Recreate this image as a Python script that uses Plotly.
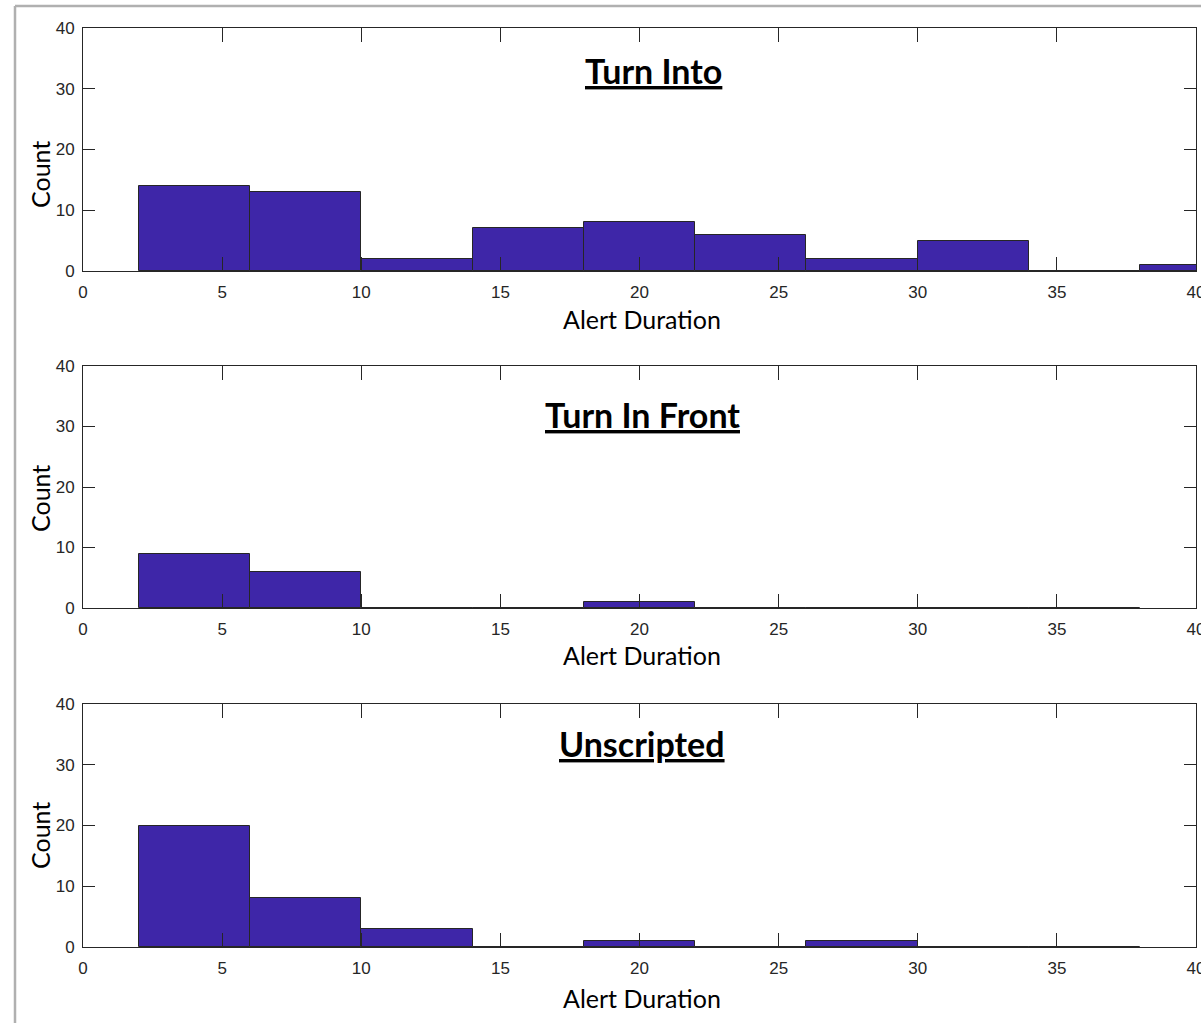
import plotly.graph_objects as go

# Histogram data: bin edges (alert duration, s) and counts per bin
edges_turn_into = [2, 6, 10, 14, 18, 22, 26, 30, 34, 38, 42]
counts_turn_into = [14, 13, 2, 7, 8, 6, 2, 5, 0, 1]

edges_turn_front = [2, 6, 10, 14, 18, 22, 26, 30, 34, 38]
counts_turn_front = [9, 6, 0, 0, 1, 0, 0, 0, 0]

edges_unscripted = [2, 6, 10, 14, 18, 22, 26, 30, 34, 38]
counts_unscripted = [20, 8, 3, 0, 1, 0, 1, 0, 0]

panel_titles = ["Turn Into", "Turn In Front", "Unscripted"]
x_ticks = [0, 5, 10, 15, 20, 25, 30, 35, 40]
y_ticks = [0, 10, 20, 30, 40]

W, H = 1201, 1023
BAR = "#3E26A8"
INK = "#262626"
TEXT_FONT = "Lato"
TICK_FONT = "Liberation Sans Narrow, Liberation Sans, sans-serif"

# pixel boxes of the three panels (left, right, top, bottom)
px_left, px_right = 83, 1196
panels_px = [(28, 271), (366, 608), (704, 947)]

panels = [
    (edges_turn_into, counts_turn_into),
    (edges_turn_front, counts_turn_front),
    (edges_unscripted, counts_unscripted),
]

fig = go.Figure()
layout = dict(
    width=W, height=H,
    margin=dict(l=0, r=0, t=0, b=0, autoexpand=False),
    paper_bgcolor="white", plot_bgcolor="white",
    showlegend=False, bargap=0,
    annotations=[], shapes=[],
)

title_pos = [(653, 71), (642, 414), (642, 743)]
count_pos = [175, 499, 836]
xlabel_pos = [319, 655, 998]

for i, (edges, counts) in enumerate(panels):
    n = i + 1
    xa = "x" if n == 1 else f"x{n}"
    ya = "y" if n == 1 else f"y{n}"
    centers = [(a + b) / 2 for a, b in zip(edges[:-1], edges[1:])]
    widths = [b - a for a, b in zip(edges[:-1], edges[1:])]
    fig.add_trace(go.Bar(
        x=centers, y=counts, width=widths,
        marker=dict(color=BAR, line=dict(color=INK, width=1)),
        xaxis=xa, yaxis=ya, hoverinfo="x+y",
    ))
    top, bot = panels_px[i]
    axis_common = dict(
        showgrid=False, zeroline=False, automargin=False,
        showline=True, linecolor=INK, linewidth=1, mirror="allticks",
        ticks="inside", tickcolor=INK, tickwidth=1,
        ticklabeloverflow="allow",
        tickfont=dict(family=TICK_FONT, size=17, color=INK),
    )
    layout["xaxis" if n == 1 else f"xaxis{n}"] = dict(
        axis_common,
        domain=[px_left / W, px_right / W],
        range=[0, 40], tickvals=x_ticks, ticklen=14,
        ticklabelstandoff=6,
        anchor=ya,
    )
    layout["yaxis" if n == 1 else f"yaxis{n}"] = dict(
        axis_common,
        domain=[1 - bot / H, 1 - top / H],
        range=[0, 40], tickvals=y_ticks, ticklen=12,
        ticklabelstandoff=4,
        anchor=xa,
    )
    tx, ty = title_pos[i]
    layout["annotations"].append(dict(
        text=f"<b>{panel_titles[i]}</b>", xref="paper", yref="paper",
        x=tx / W, y=1 - ty / H, xanchor="center", yanchor="middle",
        showarrow=False,
        font=dict(family=TEXT_FONT, size=34, color="black", lineposition="under"),
    ))
    layout["annotations"].append(dict(
        text="Count", xref="paper", yref="paper",
        x=40 / W, y=1 - count_pos[i] / H, xanchor="center", yanchor="middle",
        textangle=-90, showarrow=False,
        font=dict(family=TEXT_FONT, size=25, color="black"),
    ))
    layout["annotations"].append(dict(
        text="Alert Duration", xref="paper", yref="paper",
        x=642 / W, y=1 - xlabel_pos[i] / H, xanchor="center", yanchor="middle",
        showarrow=False,
        font=dict(family=TEXT_FONT, size=25, color="black"),
    ))

# light gray frame along the top and left edges
layout["shapes"] += [
    dict(type="line", xref="paper", yref="paper", x0=15 / W, x1=1.0,
         y0=1 - 6 / H, y1=1 - 6 / H, line=dict(color="#B0B0B0", width=2.5)),
    dict(type="line", xref="paper", yref="paper", x0=15 / W, x1=15 / W,
         y0=0, y1=1 - 6 / H, line=dict(color="#B0B0B0", width=2.5)),
]

fig.update_layout(**layout)
fig.write_html("out.html")
